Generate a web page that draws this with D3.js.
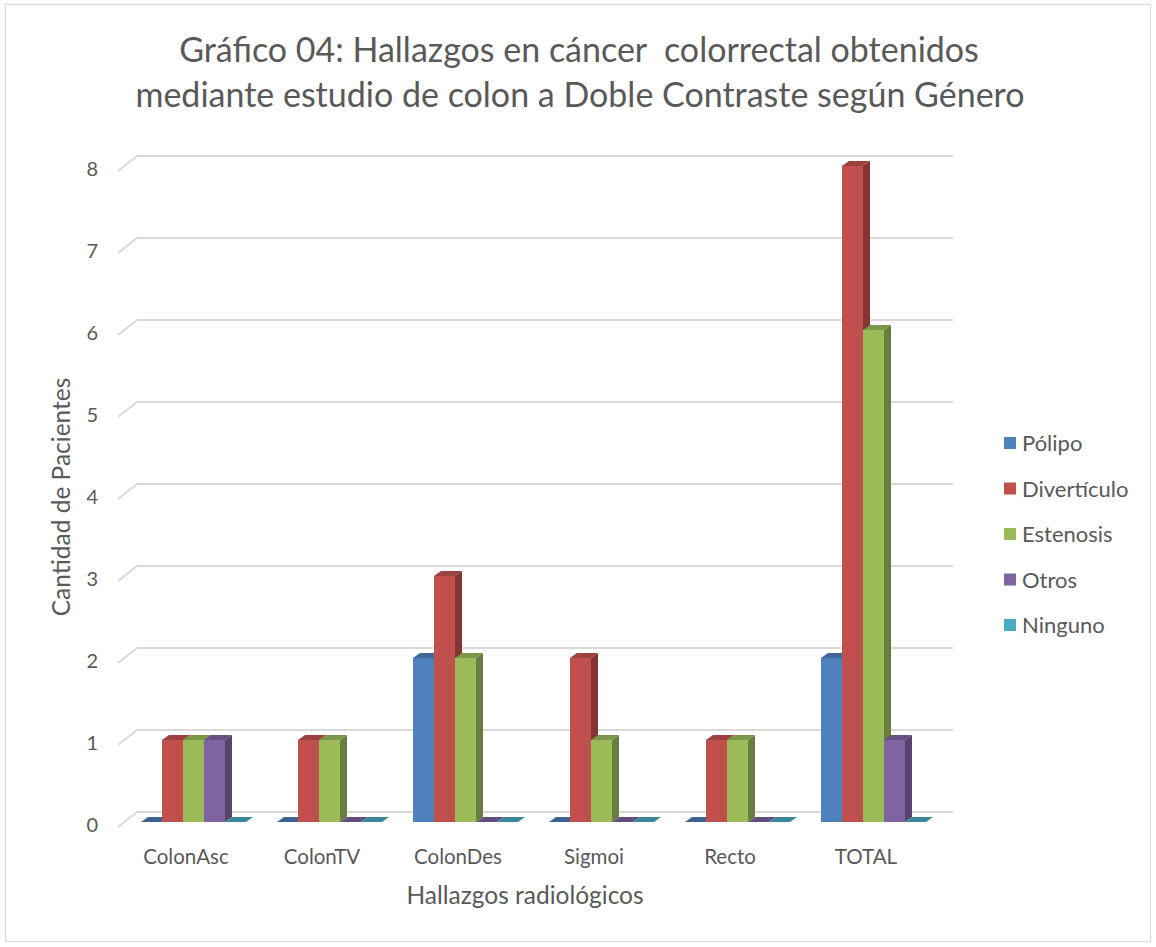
<!DOCTYPE html>
<html>
<head>
<meta charset="utf-8">
<script src="https://cdn.jsdelivr.net/npm/d3@7"></script>
<style>
  body { margin: 0; background: #fff; }
  text { font-family: Lato, "Open Sans", sans-serif; fill: #595959; }
</style>
</head>
<body>
<div id="chart"></div>
<script>
// data
const categories = ["ColonAsc", "ColonTV", "ColonDes", "Sigmoi", "Recto", "TOTAL"];
const seriesNames = ["Pólipo", "Divertículo", "Estenosis", "Otros", "Ninguno"];
const polipo      = [0, 0, 2, 0, 0, 2];
const diverticulo = [1, 1, 3, 2, 1, 8];
const estenosis   = [1, 1, 2, 1, 1, 6];
const otros       = [1, 0, 0, 0, 0, 1];
const ninguno     = [0, 0, 0, 0, 0, 0];
const yTicks = [0, 1, 2, 3, 4, 5, 6, 7, 8];
const colors = ["#4F81BD", "#C0504D", "#9BBB59", "#8064A2", "#4BACC6"];

const series = [polipo, diverticulo, estenosis, otros, ninguno];

const W = 1156, H = 947;
const svg = d3.select("#chart").append("svg")
    .attr("width", W).attr("height", H);

// outer border
svg.append("rect")
    .attr("x", 5.5).attr("y", 4.5)
    .attr("width", 1145).attr("height", 937)
    .attr("fill", "#fff").attr("stroke", "#d9d9d9");

// scales
const x = d3.scaleBand().domain(categories).range([118, 934]);
const y = d3.scaleLinear().domain([0, 8]).range([822, 166]);

const barW = 21, dx = 7, dy = -5;        // bar depth
const wallDx = 19;                        // wall depth

// gridlines (back wall + diagonal on the side)
const grid = svg.append("g");
yTicks.forEach(v => {
  grid.append("path")
    .attr("d", `M118,${y(v) + 5} L${118 + wallDx},${y(v) - 10} L953,${y(v) - 10}`)
    .attr("fill", "none")
    .attr("stroke", "#d9d9d9")
    .attr("stroke-width", 2);
});

// tick labels
svg.append("g").selectAll("text")
  .data(yTicks)
  .join("text")
    .attr("x", 98)
    .attr("y", d => y(d) + 10)
    .attr("text-anchor", "end")
    .style("font-size", "20px")
    .text(d => d);

// bars
const bars = svg.append("g");
categories.forEach((c, i) => {
  series.forEach((s, j) => {
    const v = s[i];
    const x0 = x(c) + 23 + j * barW;
    const yt = y(v), yb = y(0);
    const col = d3.color(colors[j]);
    if (v > 0) {
      bars.append("rect")
        .attr("x", x0).attr("y", yt)
        .attr("width", barW).attr("height", yb - yt)
        .attr("fill", col);
      bars.append("path")
        .attr("d", `M${x0 + barW},${yt} L${x0 + barW + dx},${yt + dy} L${x0 + barW + dx},${yb + dy} L${x0 + barW},${yb} Z`)
        .attr("fill", col.darker(1.1));
    }
    bars.append("path")
      .attr("d", `M${x0},${yt} L${x0 + dx},${yt + dy} L${x0 + barW + dx},${yt + dy} L${x0 + barW},${yt} Z`)
      .attr("fill", v > 0 ? col.darker(0.6) : col.darker(0.7));
  });
});

// category labels
svg.append("g").selectAll("text")
  .data(categories)
  .join("text")
    .attr("x", d => x(d) + x.bandwidth() / 2)
    .attr("y", 864)
    .attr("text-anchor", "middle")
    .style("font-size", "20.5px")
    .text(d => d);

// axis titles
svg.append("text")
    .attr("x", 525).attr("y", 904)
    .attr("text-anchor", "middle")
    .style("font-size", "24.5px")
    .text("Hallazgos radiológicos");

svg.append("text")
    .attr("transform", "translate(70,497) rotate(-90)")
    .attr("text-anchor", "middle")
    .style("font-size", "24.5px")
    .text("Cantidad de Pacientes");

// title
svg.append("text")
    .attr("x", 579).attr("y", 62)
    .attr("text-anchor", "middle")
    .style("font-size", "34px")
    .style("white-space", "pre")
    .text("Gráfico 04: Hallazgos en cáncer  colorrectal obtenidos");
svg.append("text")
    .attr("x", 580).attr("y", 107)
    .attr("text-anchor", "middle")
    .style("font-size", "34px")
    .text("mediante estudio de colon a Doble Contraste según Género");

// legend
const legend = svg.append("g");
seriesNames.forEach((n, j) => {
  const ly = 443 + j * 45.5;
  legend.append("rect")
    .attr("x", 1004).attr("y", ly - 6)
    .attr("width", 12).attr("height", 12)
    .attr("fill", colors[j]);
  legend.append("text")
    .attr("x", 1022).attr("y", ly + 8)
    .style("font-size", "22px")
    .text(n);
});
</script>
</body>
</html>
